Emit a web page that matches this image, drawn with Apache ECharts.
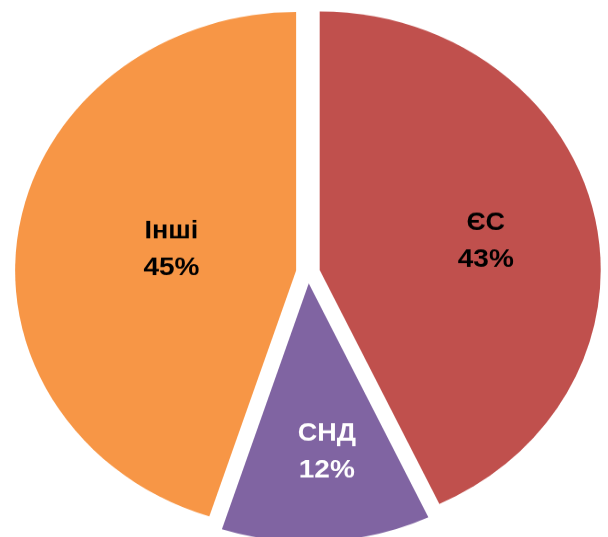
<!DOCTYPE html>
<html>
<head>
<meta charset="utf-8">
<script src="https://cdn.jsdelivr.net/npm/echarts@6/dist/echarts.min.js"></script>
<style>
  html, body { margin: 0; padding: 0; background: #fff; overflow: hidden; }
  /* pie in the reference is an ellipse, squash the chart vertically */
  #wrap { width: 608px; height: 537px; overflow: hidden; }
  #chart { width: 608px; height: 584px; transform: scaleY(0.92); transform-origin: 0 0; }
</style>
</head>
<body>
<div id="wrap"><div id="chart"></div></div>
<script>
// data
const regions = ['ЄС', 'СНД', 'Інші'];
const shares = [43, 12, 45];

// look
const colors = ['#C0504D', '#8064A2', '#F79646'];
const textColors = ['#000', '#fff', '#000'];
const labelShift = [[26, 0], [9, 40], [17, 0]];
const font = 'Liberation Sans, Arial, sans-serif';

const chart = echarts.init(document.getElementById('chart'));

const seriesData = regions.map((name, i) => ({
  name: name,
  value: shares[i],
  selected: true,
  itemStyle: { color: colors[i] },
  label: {
    rich: {
      n: { fontSize: 27, fontWeight: 'bold', color: textColors[i], fontFamily: font, lineHeight: 40 },
      p: { fontSize: 28, fontWeight: 'bold', color: textColors[i], fontFamily: font, lineHeight: 40 }
    }
  }
}));

chart.setOption({
  animation: false,
  series: [{
    type: 'pie',
    center: [308, 296],
    radius: 281,
    startAngle: 90,
    clockwise: true,
    selectedMode: 'multiple',
    selectedOffset: 12,
    avoidLabelOverlap: false,
    label: {
      show: true,
      position: 'inside',
      formatter: (p) => '{n|' + p.name + '}\n{p|' + p.value + '%}'
    },
    labelLayout: (params) => ({
      dx: labelShift[params.dataIndex][0],
      dy: labelShift[params.dataIndex][1]
    }),
    labelLine: { show: false },
    emphasis: { disabled: true },
    data: seriesData
  }]
});
</script>
</body>
</html>
